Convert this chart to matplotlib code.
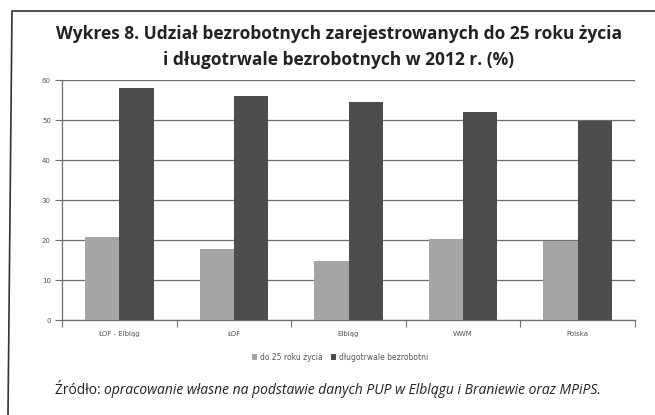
import matplotlib.pyplot as plt
from matplotlib.lines import Line2D
import numpy as np

categories = ['ŁOF - Elbląg', 'ŁOF', 'Elbląg', 'WWM', 'Polska']
under_25 = [20.8, 17.8, 14.8, 20.3, 19.8]
long_term = [57.9, 56.1, 54.6, 52.0, 49.7]
series_names = ['do 25 roku życia', 'długotrwale bezrobotni']
y_ticks = [0, 10, 20, 30, 40, 50, 60]

title = ('Wykres 8. Udział bezrobotnych zarejestrowanych do 25 roku życia\n'
         'i długotrwale bezrobotnych w 2012 r. (%)')

W, H = 655, 415
fig = plt.figure(figsize=(W / 100, H / 100), dpi=100)
fig.patch.set_facecolor('white')

ax = fig.add_axes([62 / W, 1 - 320 / H, 573 / W, 240 / H])

x = np.arange(len(categories))
bw = 0.3
ax.bar(x - bw / 2, under_25, bw, color='#a5a5a5', label=series_names[0], zorder=3)
ax.bar(x + bw / 2, long_term, bw, color='#4d4d4d', label=series_names[1], zorder=3)

ax.set_xlim(-0.5, len(categories) - 0.5)
ax.set_ylim(0, 60)
ax.set_yticks(y_ticks)
ax.set_yticklabels([str(v) for v in y_ticks], fontsize=5, color='#555555')
ax.yaxis.grid(True, color='#6e6e6e', linewidth=0.9, zorder=0)
ax.tick_params(axis='y', length=5, width=0.8, color='#6e6e6e', pad=3)

ax.set_xticks(x)
ax.set_xticklabels(categories, fontsize=5, color='#555555')
ax.tick_params(axis='x', length=0, pad=8)
ax.set_xticks(np.arange(len(categories) + 1) - 0.5, minor=True)
ax.tick_params(axis='x', which='minor', length=5, width=0.8, color='#6e6e6e')

for s in ['top', 'right']:
    ax.spines[s].set_visible(False)
for s in ['left', 'bottom']:
    ax.spines[s].set_color('#6e6e6e')
    ax.spines[s].set_linewidth(0.9)

fig.text(339 / W, 1 - 47 / H, title, ha='center', va='center', fontsize=12.5,
         fontweight='bold', family='Open Sans', color='#222222', linespacing=1.6)

leg = fig.legend(loc='center', bbox_to_anchor=(340 / W, 1 - 357 / H), ncol=2,
                 frameon=False, fontsize=5.5, handlelength=0.7, handleheight=0.7,
                 columnspacing=1.0, handletextpad=0.4)
for t in leg.get_texts():
    t.set_color('#555555')

src_y = 1 - 390 / H
t1 = fig.text(55 / W, src_y, 'Źródło: ', ha='left', va='center', fontsize=10,
              family='Open Sans', color='#222222')
fig.canvas.draw()
bb = t1.get_window_extent()
fig.text(bb.x1 / W, src_y,
         'opracowanie własne na podstawie danych PUP w Elblągu i Braniewie oraz MPiPS.',
         ha='left', va='center', fontsize=10, family='Open Sans', style='italic',
         color='#222222')

# scanned frame around the chart
fig.add_artist(Line2D([8 / W, 12 / W, 1.0], [0, 1 - 11 / H, 1 - 11 / H],
                      transform=fig.transFigure, color='#333333', linewidth=1.2))

fig.savefig('out.png', dpi=100)
